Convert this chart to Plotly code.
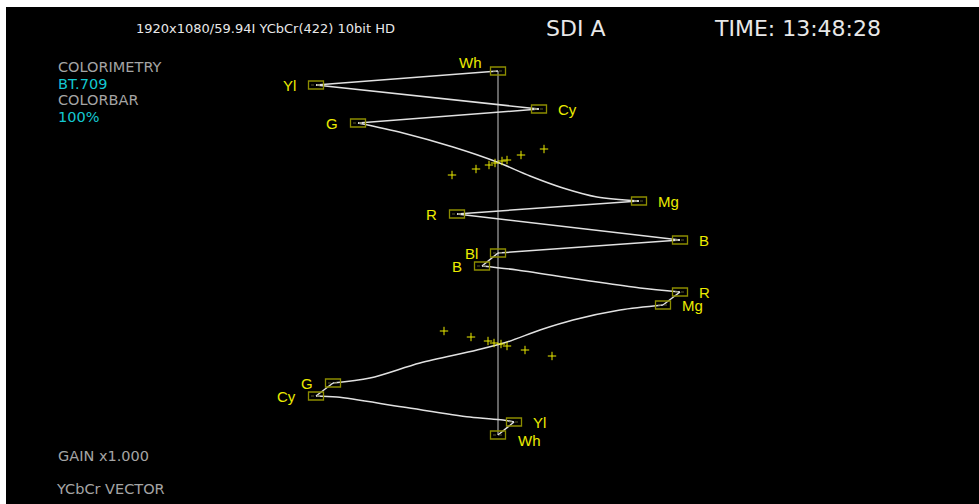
import plotly.graph_objects as go

# Colour bar chips in the order the trace visits them (upper field, then lower field)
chip_names = ["Wh", "Yl", "Cy", "G", "Mg", "R", "B", "Bl",
              "B", "R", "Mg", "G", "Cy", "Yl", "Wh"]
chip_x = [498, 316, 539, 358, 639, 457, 680, 498,
          482, 680, 663, 333, 316, 514, 498]
chip_y = [71, 85, 109, 123, 201, 214, 240, 253,
          266, 292, 305, 383, 396, 422, 435]
label_side = ["top", "left", "right", "left", "right", "left", "right", "left",
              "left", "right", "right", "left", "left", "right", "bottom"]

# points read along the curved transitions, keyed by the chip they leave from
curve_x = {3: [403, 453, 497, 530, 563, 597],
           8: [517, 590, 640],
           10: [620, 573, 540, 507, 477, 420, 370],
           12: [337, 403, 470, 503]}
curve_y = {3: [133, 147, 162, 176, 188, 197],
           8: [270, 281, 288],
           10: [310, 320, 330, 342, 350, 363, 378],
           12: [397, 407, 417, 420]}

# blanking crosses
upper_dots_x = [452, 476, 489, 495, 502, 507, 521, 544]
upper_dots_y = [175, 169, 165, 163, 161, 160, 155, 149]
lower_dots_x = [444, 471, 488, 494, 501, 507, 525, 552]
lower_dots_y = [331, 337, 341, 343, 344, 346, 350, 356]

# Styles
bg = "black"
trace_col = "rgb(225,225,225)"
box_col = "rgb(140,140,0)"
label_col = "rgb(235,235,0)"
grey_txt = "rgb(165,165,165)"
cyan_txt = "rgb(20,200,210)"
head_txt = "rgb(232,232,232)"

fig = go.Figure()

# centre line between the two white points
fig.add_trace(go.Scatter(x=[chip_x[0], chip_x[-1]], y=[chip_y[0], chip_y[-1]],
                         mode="lines", line=dict(color="rgb(200,200,200)", width=1),
                         hoverinfo="skip"))

# vector trace, one piece per transition
for i in range(len(chip_x) - 1):
    xs = [chip_x[i]] + curve_x.get(i, []) + [chip_x[i + 1]]
    ys = [chip_y[i]] + curve_y.get(i, []) + [chip_y[i + 1]]
    fig.add_trace(go.Scatter(x=xs, y=ys, mode="lines",
                             line=dict(color=trace_col, width=1.5, shape="spline", smoothing=0.9),
                             hoverinfo="skip"))

# crosses
fig.add_trace(go.Scatter(x=upper_dots_x + lower_dots_x, y=upper_dots_y + lower_dots_y,
                         mode="markers",
                         marker=dict(symbol="cross-thin", size=6, color=label_col,
                                     line=dict(color=label_col, width=1)),
                         hoverinfo="skip"))

# target boxes and labels
for name, x, y, side in zip(chip_names, chip_x, chip_y, label_side):
    fig.add_shape(type="rect", x0=x - 7.5, x1=x + 7.5, y0=y - 4, y1=y + 4,
                  line=dict(color=box_col, width=1.3))
    fig.add_shape(type="line", x0=x - 5, x1=x + 5, y0=y, y1=y,
                  line=dict(color="rgb(90,90,40)", width=1, dash="dot"))
    if side == "left":
        anchor, dx, dy = "right", -18, 0
    elif side == "right":
        anchor, dx, dy = "left", 17, 0
    elif side == "top":
        anchor, dx, dy = "right", -14, 9
    else:
        anchor, dx, dy = "left", 18, -5
    fig.add_annotation(x=x, y=y, text=name, showarrow=False, xanchor=anchor,
                       yanchor="middle", xshift=dx, yshift=dy,
                       font=dict(family="Liberation Sans, Arial", size=15, color=label_col))

# header and info texts
def txt(x, y, s, size, color, anchor="left", family="DejaVu Sans"):
    fig.add_annotation(x=x, y=y, text=s, showarrow=False, xanchor=anchor,
                       yanchor="middle", font=dict(family=family, size=size, color=color))

txt(265, 28, "1920x1080/59.94I YCbCr(422) 10bit HD", 13, head_txt, "center")
txt(575, 28, "SDI A", 22, head_txt, "center")
txt(797, 28, "TIME: 13:48:28", 22, head_txt, "center")
txt(56, 67, "COLORIMETRY", 14.5, grey_txt)
txt(56, 84, "BT.709", 14.5, cyan_txt)
txt(56, 100, "COLORBAR", 14.5, grey_txt)
txt(56, 117, "100%", 14.5, cyan_txt)
txt(56, 456, "GAIN x1.000", 14.5, grey_txt)
txt(54, 489, "YCbCr VECTOR", 14.5, grey_txt)

fig.update_xaxes(range=[6, 979], visible=False, fixedrange=True)
fig.update_yaxes(range=[504, 7], visible=False, fixedrange=True)
fig.update_layout(width=979, height=504,
                  margin=dict(l=6, r=0, t=7, b=0),
                  paper_bgcolor="white", plot_bgcolor=bg,
                  showlegend=False)

# drop the page's default body margin so the figure sits at the window corner
fig.write_html("out.html", config={"displayModeBar": False},
               post_script="document.body.style.margin='0';")
